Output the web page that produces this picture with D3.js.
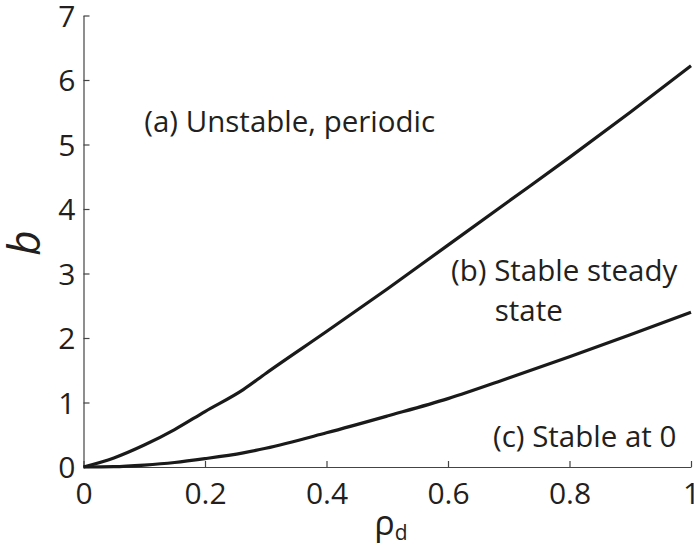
<!DOCTYPE html>
<html>
<head>
<meta charset="utf-8">
<script src="https://cdn.jsdelivr.net/npm/d3@7"></script>
<style>
  body { margin: 0; background: #fff; }
  svg { display: block; }
  text { font-family: "Open Sans", sans-serif; fill: #231f20; }
</style>
</head>
<body>
<svg id="chart" width="694" height="548"></svg>
<script>
// x values (rho_d) for both boundary curves
var rhoD = [0, 0.05, 0.1, 0.15, 0.2, 0.263, 0.3, 0.4, 0.5, 0.6, 0.7, 0.8, 0.9, 1.0];
// upper boundary: (a) unstable / (b) stable steady state
var upperB = [0, 0.14, 0.34, 0.58, 0.86, 1.20, 1.45, 2.10, 2.76, 3.44, 4.12, 4.80, 5.50, 6.22];
// lower boundary: (b) stable steady state / (c) stable at 0
var lowerB = [0, 0.005, 0.03, 0.07, 0.13, 0.22, 0.29, 0.53, 0.79, 1.06, 1.38, 1.71, 2.05, 2.40];

var xTicks = [0, 0.2, 0.4, 0.6, 0.8, 1];
var yTicks = [0, 1, 2, 3, 4, 5, 6, 7];

var labels = [
	{ text: "(a) Unstable, periodic", x: 0.1, y: 5.19 },
	{ text: "(b) Stable steady", x: 0.605, y: 2.88 },
	{ text: "state", x: 0.677, y: 2.27 },
	{ text: "(c) Stable at 0", x: 0.674, y: 0.31 }
];

var svg = d3.select("#chart");
var mLeft = 83.5, mRight = 691, mTop = 15.5, mBottom = 467;

var x = d3.scaleLinear().domain([0, 1]).range([mLeft, mRight]);
var y = d3.scaleLinear().domain([0, 7]).range([mBottom, mTop]);

// axes, ticks pointing inward
var xAxis = d3.axisBottom(x).tickValues(xTicks).tickFormat(function (d) { return d; })
	.tickSizeInner(-6).tickSizeOuter(0).tickPadding(16);
var yAxis = d3.axisLeft(y).tickValues(yTicks).tickFormat(function (d) { return d; })
	.tickSizeInner(-6).tickSizeOuter(0).tickPadding(8);

var gx = svg.append("g").attr("transform", "translate(0," + mBottom + ")").call(xAxis);
var gy = svg.append("g").attr("transform", "translate(" + mLeft + ",0)").call(yAxis);

[gx, gy].forEach(function (g) {
	g.select(".domain").attr("stroke", "#444").attr("stroke-width", 1.2);
	g.selectAll(".tick line").attr("stroke", "#444").attr("stroke-width", 1.2);
	g.selectAll(".tick text")
		.attr("font-family", "Open Sans, sans-serif")
		.attr("font-size", 30)
		.attr("fill", "#231f20");
});
gy.selectAll(".tick text").attr("dy", "0.36em");

// boundary curves
var line = d3.line()
	.x(function (d) { return x(d[0]); })
	.y(function (d) { return y(d[1]); })
	.curve(d3.curveMonotoneX);

[upperB, lowerB].forEach(function (series) {
	svg.append("path")
		.datum(rhoD.map(function (r, i) { return [r, series[i]]; }))
		.attr("fill", "none")
		.attr("stroke", "#1a1a1a")
		.attr("stroke-width", 3.2)
		.attr("stroke-linejoin", "round")
		.attr("d", line);
});

// region labels
svg.selectAll("text.region").data(labels)
	.enter().append("text")
	.attr("class", "region")
	.attr("x", function (d) { return x(d.x); })
	.attr("y", function (d) { return y(d.y); })
	.attr("font-size", 29.5)
	.text(function (d) { return d.text; });

// axis titles
var xt = svg.append("text")
	.attr("x", 391)
	.attr("y", 535)
	.attr("text-anchor", "middle")
	.attr("font-size", 34);
xt.append("tspan").text("ρ");
xt.append("tspan").attr("font-size", 21).attr("dy", 5).text("d");

svg.append("text")
	.attr("transform", "translate(40,243) rotate(-90)")
	.attr("text-anchor", "middle")
	.attr("font-size", 44)
	.attr("font-style", "italic")
	.text("b");
</script>
</body>
</html>
